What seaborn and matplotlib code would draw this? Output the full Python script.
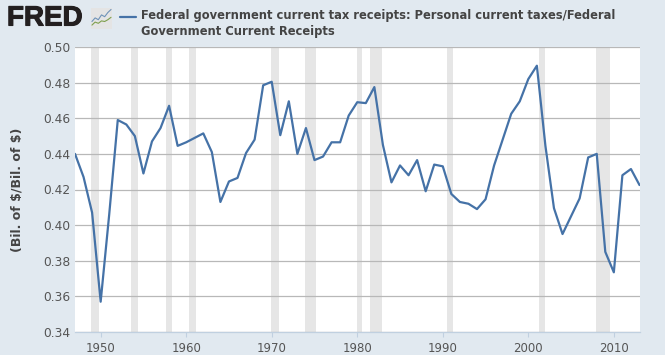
import matplotlib
matplotlib.use('Agg')
import matplotlib.pyplot as plt
import matplotlib.patheffects as pe
import pandas as pd
import seaborn as sns

years = list(range(1947, 2014))
ratio = [0.440, 0.427, 0.407, 0.357, 0.406, 0.459, 0.4565, 0.450, 0.429, 0.447,
         0.4545, 0.467, 0.4445, 0.4465, 0.449, 0.4515, 0.441, 0.413, 0.4245, 0.4265,
         0.4405, 0.448, 0.4785, 0.4805, 0.4505, 0.4695, 0.440, 0.4545, 0.4365, 0.4385,
         0.4465, 0.4465, 0.4615, 0.469, 0.4685, 0.4775, 0.445, 0.424, 0.4335, 0.428,
         0.4365, 0.419, 0.434, 0.433, 0.4175, 0.413, 0.412, 0.409, 0.4145, 0.4335,
         0.448, 0.4625, 0.4695, 0.482, 0.4895, 0.4445, 0.4095, 0.395, 0.405, 0.415,
         0.438, 0.440, 0.385, 0.3735, 0.428, 0.4315, 0.4225]

recession_start = [1948.9, 1953.5, 1957.6, 1960.3, 1969.9, 1973.9, 1980.0, 1981.5, 1990.5, 2001.2, 2007.9]
recession_end = [1949.8, 1954.4, 1958.3, 1961.1, 1970.9, 1975.2, 1980.5, 1982.9, 1991.2, 2001.9, 2009.5]

y_ticks = [0.34, 0.36, 0.38, 0.40, 0.42, 0.44, 0.46, 0.48, 0.50]
x_ticks = [1950, 1960, 1970, 1980, 1990, 2000, 2010]

legend_text = 'Federal government current tax receipts: Personal current taxes/Federal\nGovernment Current Receipts'

# little chart icon next to the logo
icon_x = [0, 1, 2, 3, 4, 5, 6]
icon_blue = [2.0, 3.2, 2.6, 4.2, 3.6, 5.0, 6.0]
icon_green = [0.8, 1.8, 1.4, 2.2, 2.0, 2.6, 3.4]

bg = '#e1e9f0'
line_col = '#4572a7'

df = pd.DataFrame({'year': years, 'ratio': ratio})

sns.set_style('white')
plt.rcParams['font.family'] = ['DejaVu Sans']

fig = plt.figure(figsize=(6.65, 3.55), dpi=100, facecolor=bg)
ax = fig.add_axes([75 / 665, 1 - 332 / 355, (639.5 - 75) / 665, (332 - 47) / 355])

for s, e in zip(recession_start, recession_end):
    ax.axvspan(s, e, color='#e6e6e6', lw=0, zorder=1)

sns.lineplot(data=df, x='year', y='ratio', color=line_col, lw=1.6, ax=ax, zorder=3)

ax.set_xlim(1947, 2013)
ax.set_ylim(0.34, 0.50)
ax.set_yticks(y_ticks)
ax.set_yticklabels(['%.2f' % v for v in y_ticks])
ax.set_xticks(x_ticks)
ax.grid(axis='y', color='#b8b8b8', lw=0.9, zorder=2)
ax.set_axisbelow(False)
ax.tick_params(axis='y', length=0, labelsize=8.8, labelcolor='#555555', pad=3.5)
ax.tick_params(axis='x', length=3.6, width=0.8, color='#c0d0e0', labelsize=8.5, labelcolor='#555555', pad=3.5, bottom=True)
for side in ['top', 'right', 'left']:
    ax.spines[side].set_visible(False)
ax.spines['bottom'].set_color('#c0d0e0')
ax.spines['bottom'].set_linewidth(0.9)

ax.set_xlabel('')
ax.set_ylabel('')
fig.text(17 / 665, 1 - 190 / 355, '(Bil. of \\$/Bil. of \\$)', rotation=90, ha='center', va='center',
         fontsize=9, fontweight='bold', color='#444444')

# header
fig.text(7 / 665, 1 - 18.5 / 355, 'FRED', fontsize=20, fontweight='bold', color='#231f20',
         ha='left', va='center', family='Liberation Sans',
         path_effects=[pe.withStroke(linewidth=0.8, foreground='#231f20')])

icon = fig.add_axes([91 / 665, 1 - 29 / 355, 21 / 665, 21 / 355], facecolor='#e4e4e4')
sns.lineplot(x=icon_x, y=icon_blue, color='#6f93b8', lw=0.8, ax=icon)
sns.lineplot(x=icon_x, y=icon_green, color='#7fa04e', lw=0.8, ax=icon)
icon.set_xlim(-0.3, 6.3)
icon.set_ylim(-0.5, 6.5)
icon.set_xticks([])
icon.set_yticks([])
for side in icon.spines.values():
    side.set_visible(False)

fig.add_artist(plt.Line2D([120 / 665, 136 / 665], [1 - 17 / 355, 1 - 17 / 355], color=line_col, lw=1.6))
fig.text(141 / 665, 1 - 23.5 / 355, legend_text, fontsize=8.3, fontweight='bold', color='#444444',
         ha='left', va='center', linespacing=1.2)

fig.savefig('out.png', dpi=100, facecolor=bg)
